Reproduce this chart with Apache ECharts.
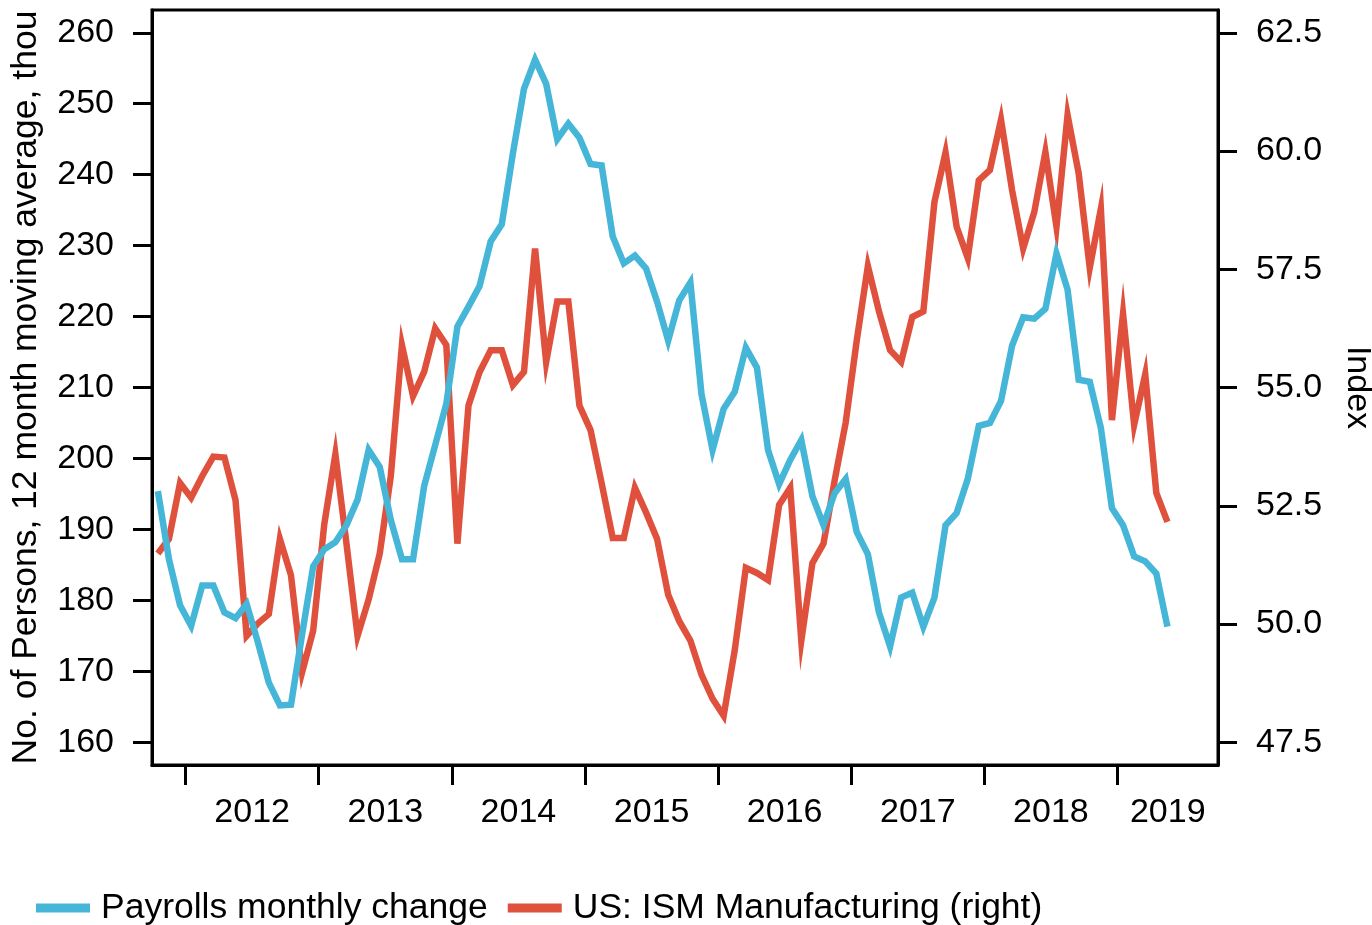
<!DOCTYPE html>
<html>
<head>
<meta charset="utf-8">
<title>Payrolls vs ISM Manufacturing</title>
<script src="https://cdn.jsdelivr.net/npm/echarts@6/dist/echarts.min.js"></script>
<style>
  html, body { margin: 0; padding: 0; background: #fff; }
  #main { width: 1372px; height: 925px; }
</style>
</head>
<body>
<div id="main"></div>
<script>
// monthly observations, Oct 2011 - May 2019
const months = [
  '2011-10', '2011-11', '2011-12',
  '2012-01', '2012-02', '2012-03', '2012-04', '2012-05', '2012-06', '2012-07', '2012-08', '2012-09', '2012-10', '2012-11', '2012-12',
  '2013-01', '2013-02', '2013-03', '2013-04', '2013-05', '2013-06', '2013-07', '2013-08', '2013-09', '2013-10', '2013-11', '2013-12',
  '2014-01', '2014-02', '2014-03', '2014-04', '2014-05', '2014-06', '2014-07', '2014-08', '2014-09', '2014-10', '2014-11', '2014-12',
  '2015-01', '2015-02', '2015-03', '2015-04', '2015-05', '2015-06', '2015-07', '2015-08', '2015-09', '2015-10', '2015-11', '2015-12',
  '2016-01', '2016-02', '2016-03', '2016-04', '2016-05', '2016-06', '2016-07', '2016-08', '2016-09', '2016-10', '2016-11', '2016-12',
  '2017-01', '2017-02', '2017-03', '2017-04', '2017-05', '2017-06', '2017-07', '2017-08', '2017-09', '2017-10', '2017-11', '2017-12',
  '2018-01', '2018-02', '2018-03', '2018-04', '2018-05', '2018-06', '2018-07', '2018-08', '2018-09', '2018-10', '2018-11', '2018-12',
  '2019-01', '2019-02', '2019-03', '2019-04', '2019-05'
];

// payrolls, 12 month moving average (thousands) - left axis
const payrolls = [
  195.4, 185.8, 179.3,
  176.4, 182.1, 182.1, 178.3, 177.5, 179.5, 174.2, 168.4, 165.2, 165.3, 175.2, 184.8,
  187.2, 188.2, 190.6, 194.2, 201.2, 198.8, 191.3, 185.8, 185.8, 196.1, 201.9, 207.7,
  218.6, 221.4, 224.3, 230.6, 233.0, 243.0, 252.1, 256.2, 252.8, 245.0, 247.2, 245.2,
  241.5, 241.3, 231.3, 227.5, 228.6, 226.8, 222.1, 216.6, 222.3, 224.8, 209.1, 201.2,
  207.0, 209.4, 215.6, 212.8, 201.2, 196.4, 199.8, 202.6, 194.7, 190.6, 195.1, 197.1,
  189.6, 186.5, 178.3, 173.5, 180.4, 181.1, 176.3, 180.4, 190.6, 192.3, 197.1, 204.6,
  205.0, 208.1, 215.9, 219.9, 219.7, 221.1, 228.9, 223.8, 211.1, 210.8, 204.3, 193.0,
  190.6, 186.2, 185.5, 183.8, 176.3
];

// ISM manufacturing index - right axis
const ism = [
  51.49, 51.80, 52.98,
  52.67, 53.13, 53.54, 53.52, 52.62, 49.75, 50.01, 50.21, 51.80, 51.03, 48.98, 49.86,
  52.11, 53.59, 51.70, 49.75, 50.52, 51.49, 53.13, 55.90, 54.82, 55.33, 56.25, 55.90,
  51.70, 54.62, 55.33, 55.79, 55.79, 55.05, 55.33, 57.94, 55.54, 56.82, 56.82, 54.62,
  54.10, 52.98, 51.82, 51.82, 52.88, 52.36, 51.80, 50.62, 50.06, 49.65, 48.93, 48.42,
  48.06, 49.45, 51.19, 51.08, 50.93, 52.52, 52.88, 49.65, 51.29, 51.70, 53.03, 54.26,
  56.00, 57.57, 56.61, 55.79, 55.54, 56.49, 56.61, 58.92, 59.97, 58.40, 57.74, 59.38,
  59.60, 60.66, 59.17, 57.94, 58.71, 59.98, 58.40, 60.76, 59.53, 57.53, 58.78, 54.31,
  56.56, 54.21, 55.28, 52.77, 52.16
];

const years = [2012, 2013, 2014, 2015, 2016, 2017, 2018, 2019];
const leftTicks = [160, 170, 180, 190, 200, 210, 220, 230, 240, 250, 260];
const rightTicks = [47.5, 50.0, 52.5, 55.0, 57.5, 60.0, 62.5];

const FONT = "'Liberation Sans', Arial, Helvetica, sans-serif";
const BLUE = '#45b5d8';
const RED = '#df513d';

// x in decimal years, each month plotted mid-month
const X_MIN = 2011.7476, X_MAX = 2019.755;
function monthPos(s) {
  const p = s.split('-').map(Number);
  return p[0] + (p[1] - 0.5) / 12;
}
// year labels sit midway between their tick and the next tick (or the axis end)
const labelPos = years.map(y => (y + Math.min(y + 1, X_MAX)) / 2);

const payrollData = months.map((m, i) => [monthPos(m), payrolls[i]]);
const ismData = months.map((m, i) => [monthPos(m), ism[i]]);

const axisLineStyle = { color: '#000', width: 3 };

const option = {
  animation: false,
  backgroundColor: '#fff',
  textStyle: { fontFamily: FONT },
  grid: {
    left: 152, right: 154, top: 10, bottom: 160,
    show: true, borderColor: '#000', borderWidth: 3,
    outerBoundsMode: 'none'
  },
  legend: {
    data: ['Payrolls monthly change', 'US: ISM Manufacturing (right)'],
    left: 31, top: 885,
    icon: 'rect', itemWidth: 54, itemHeight: 9, itemGap: 20,
    textStyle: { fontSize: 35.5, color: '#000', fontFamily: FONT, padding: [0, 0, 0, 6] }
  },
  xAxis: {
    type: 'value', min: X_MIN, max: X_MAX,
    axisLine: { lineStyle: axisLineStyle },
    axisTick: { customValues: years, length: 20, lineStyle: axisLineStyle },
    axisLabel: {
      customValues: labelPos,
      formatter: v => String(Math.floor(v)),
      fontSize: 34, color: '#000', fontFamily: FONT, margin: 31
    },
    splitLine: { show: false }
  },
  yAxis: [
    {
      type: 'value', position: 'left', min: 156.80, max: 263.21,
      name: 'No. of Persons, 12 month moving average, thou',
      nameLocation: 'middle', nameGap: 108,
      nameTextStyle: { fontSize: 35.5, color: '#000', fontFamily: FONT },
      axisLine: { show: true, lineStyle: axisLineStyle },
      axisTick: { show: true, customValues: leftTicks, length: 19, lineStyle: axisLineStyle },
      axisLabel: { customValues: leftTicks, fontSize: 34, color: '#000', fontFamily: FONT, margin: 38 },
      splitLine: { show: false }
    },
    {
      type: 'value', position: 'right', min: 47.02, max: 62.982,
      name: 'Index',
      nameLocation: 'middle', nameGap: 122, nameRotate: -90,
      nameTextStyle: { fontSize: 34, color: '#000', fontFamily: FONT },
      axisLine: { show: true, lineStyle: axisLineStyle },
      axisTick: { show: true, customValues: rightTicks, length: 19, lineStyle: axisLineStyle },
      axisLabel: {
        customValues: rightTicks, formatter: v => v.toFixed(1),
        fontSize: 34, color: '#000', fontFamily: FONT, margin: 38
      },
      splitLine: { show: false }
    }
  ],
  series: [
    {
      name: 'US: ISM Manufacturing (right)', type: 'line', yAxisIndex: 1,
      data: ismData, showSymbol: false, symbol: 'none', z: 2,
      itemStyle: { color: RED },
      lineStyle: { color: RED, width: 6.5, join: 'miter', cap: 'butt' }
    },
    {
      name: 'Payrolls monthly change', type: 'line', yAxisIndex: 0,
      data: payrollData, showSymbol: false, symbol: 'none', z: 3,
      itemStyle: { color: BLUE },
      lineStyle: { color: BLUE, width: 6.5, join: 'miter', cap: 'butt' }
    }
  ]
};

const chart = echarts.init(document.getElementById('main'));
chart.setOption(option);
window.addEventListener('resize', () => { chart.resize(); });
</script>
</body>
</html>
